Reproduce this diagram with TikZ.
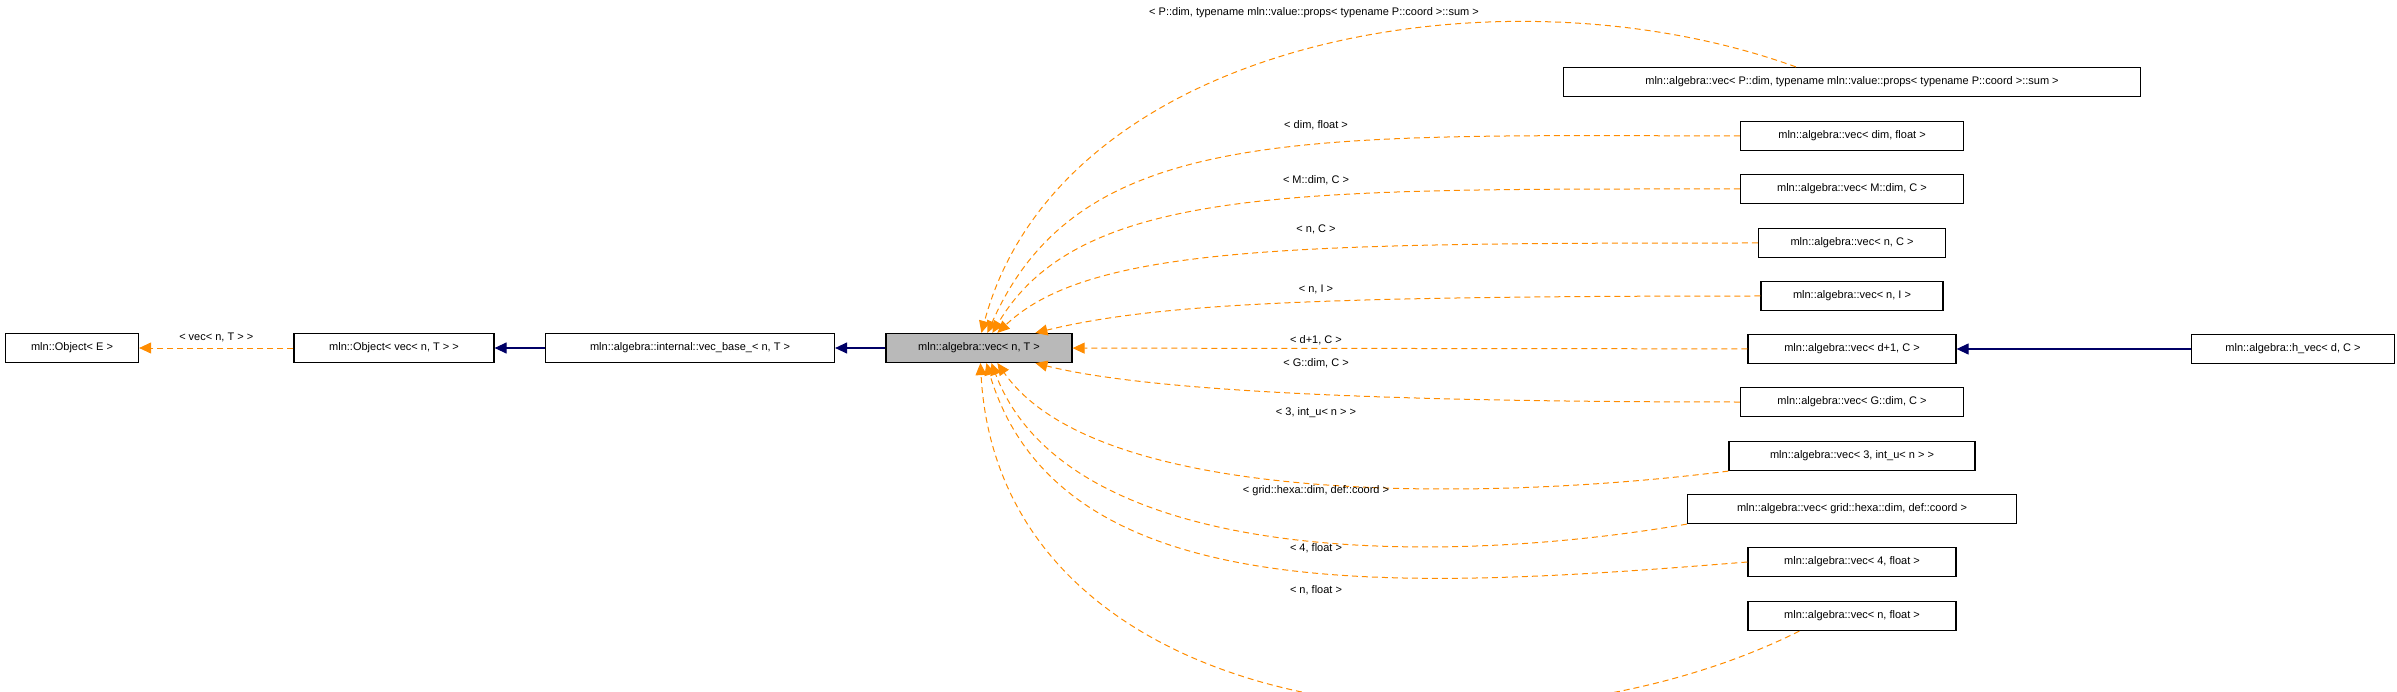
\documentclass[tikz,border=0pt]{standalone}
\usepackage{fontspec}
\setmainfont{Liberation Sans}
\usetikzlibrary{arrows.meta,calc}
\begin{document}
\begin{tikzpicture}[x=1pt,y=-1pt,
  box/.style={draw,line width=1.2pt,minimum height=29pt,inner sep=0pt,font=\fontsize{11}{12}\selectfont},
  lbl/.style={font=\fontsize{11}{12}\selectfont},
  dep/.style={draw=orange!90!yellow,dashed,line width=1pt,dash pattern=on 6pt off 4pt,-{Triangle[length=12pt,width=11pt]}},
  inh/.style={draw=blue!40!black,line width=1.2pt,-{Triangle[length=12pt,width=11pt]}}]
\useasboundingbox (0,0) rectangle (2397,692);
\node[box,minimum width=133pt] (e) at (72,348) {mln::Object< E >};
\node[box,minimum width=200pt] (o) at (394,348) {mln::Object< vec< n, T > >};
\node[box,minimum width=289pt] (b) at (690,348) {mln::algebra::internal::vec\_base\_< n, T >};
\node[box,minimum width=186pt,fill=gray!55] (v) at (979,348) {mln::algebra::vec< n, T >};
\node[box,minimum width=577pt] (p) at (1852,82) {mln::algebra::vec< P::dim, typename mln::value::props< typename P::coord >::sum >};
\node[box,minimum width=223pt] (df) at (1852,136) {mln::algebra::vec< dim, float >};
\node[box,minimum width=223pt] (mc) at (1852,189) {mln::algebra::vec< M::dim, C >};
\node[box,minimum width=187pt] (nc) at (1852,243) {mln::algebra::vec< n, C >};
\node[box,minimum width=182pt] (ni) at (1852,296) {mln::algebra::vec< n, I >};
\node[box,minimum width=208pt] (dc) at (1852,349) {mln::algebra::vec< d+1, C >};
\node[box,minimum width=203pt] (h) at (2293,349) {mln::algebra::h\_vec< d, C >};
\node[box,minimum width=223pt] (gc) at (1852,402) {mln::algebra::vec< G::dim, C >};
\node[box,minimum width=246pt] (iu) at (1852,456) {mln::algebra::vec< 3, int\_u< n > >};
\node[box,minimum width=329pt] (gr) at (1852,509) {mln::algebra::vec< grid::hexa::dim, def::coord >};
\node[box,minimum width=208pt] (f4) at (1852,562) {mln::algebra::vec< 4, float >};
\node[box,minimum width=208pt] (nf) at (1852,616) {mln::algebra::vec< n, float >};
\draw[dep] (o) -- (e) node[lbl,midway,above=2pt] {< vec< n, T > >};
\draw[inh] (b) -- (o);
\draw[inh] (v) -- (b);
\draw[inh] (h) -- (dc);
\draw[dep] (dc) -- (v);
\node[lbl] at (1316,340) {< d+1, C >};
\coordinate (t1) at ($(v.north west)+(96,0)$);
\coordinate (t2) at ($(v.north west)+(102,0)$);
\coordinate (t3) at ($(v.north west)+(107,0)$);
\coordinate (t4) at ($(v.north west)+(112,0)$);
\coordinate (t5) at ($(v.north west)+(150,0)$);
\coordinate (s1) at ($(v.south west)+(150,0)$);
\coordinate (s2) at ($(v.south west)+(112,0)$);
\coordinate (s3) at ($(v.south west)+(106,0)$);
\coordinate (s4) at ($(v.south west)+(101,0)$);
\coordinate (s5) at ($(v.south west)+(95,0)$);
\draw[dep] ($(p.north west)+(233,0)$) .. controls (1500,-40) and (1060,40) .. (t1);
\draw[dep] (df.west) .. controls (1300,135) and (1080,125) .. (t2);
\draw[dep] (mc.west) .. controls (1300,189) and (1080,185) .. (t3);
\draw[dep] (nc.west) .. controls (1300,243) and (1090,245) .. (t4);
\draw[dep] (ni.west) .. controls (1300,296) and (1150,305) .. (t5);
\draw[dep] (gc.west) .. controls (1400,402) and (1150,392) .. (s1);
\draw[dep] (iu.south west) .. controls (1500,500) and (1100,510) .. (s2);
\draw[dep] (gr.south west) .. controls (1450,565) and (1070,570) .. (s3);
\draw[dep] (f4.west) .. controls (1400,590) and (1060,610) .. (s4);
\draw[dep] ($(nf.south west)+(52,0)$) .. controls (1500,780) and (1000,720) .. (s5);
\node[lbl] at (1314,13) {< P::dim, typename mln::value::props< typename P::coord >::sum >};
\node[lbl] at (1316,125) {< dim, float >};
\node[lbl] at (1316,180) {< M::dim, C >};
\node[lbl] at (1316,229) {< n, C >};
\node[lbl] at (1316,289) {< n, I >};
\node[lbl] at (1316,363) {< G::dim, C >};
\node[lbl] at (1316,413) {< 3, int\_u< n > >};
\node[lbl] at (1316,491) {< grid::hexa::dim, def::coord >};
\node[lbl] at (1316,548) {< 4, float >};
\node[lbl] at (1316,590) {< n, float >};
\end{tikzpicture}
\end{document}
